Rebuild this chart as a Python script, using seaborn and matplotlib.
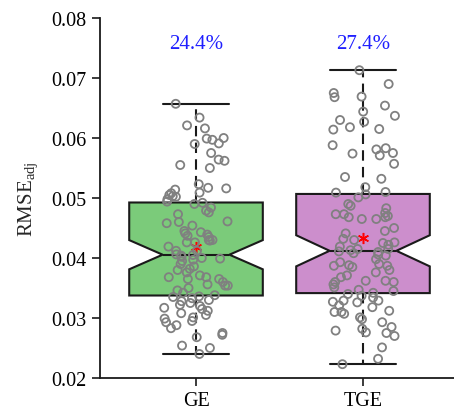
import matplotlib
matplotlib.use("Agg")
import matplotlib.pyplot as plt
import numpy as np
import pandas as pd
import seaborn as sns

# values (RMSE_adj per sample)
ge_values = [
    0.0240, 0.0250, 0.0254, 0.0268, 0.0272, 0.0275, 0.0283, 0.0288, 0.0293, 0.0295,
    0.0299, 0.0301, 0.0305, 0.0308, 0.0312, 0.0315, 0.0317, 0.0320, 0.0322, 0.0325,
    0.0328, 0.0330, 0.0333, 0.0335, 0.0336,
    0.0338, 0.0342, 0.0346, 0.0350, 0.0354, 0.0354, 0.0356, 0.0360, 0.0365, 0.0365,
    0.0368, 0.0368, 0.0371, 0.0376, 0.0380, 0.0382, 0.0386, 0.0390, 0.0395, 0.0397,
    0.0399, 0.0400, 0.0402, 0.0404, 0.0405,
    0.0406, 0.0412, 0.0412, 0.0419, 0.0426, 0.0426, 0.0429, 0.0430, 0.0430, 0.0435,
    0.0437, 0.0439, 0.0441, 0.0443, 0.0445, 0.0454, 0.0458, 0.0460, 0.0461, 0.0473,
    0.0476, 0.0479, 0.0484, 0.0490, 0.0492,
    0.0494, 0.0498, 0.0502, 0.0503, 0.0505, 0.0508, 0.0509, 0.0514, 0.0516, 0.0517,
    0.0523, 0.0550, 0.0555, 0.0562, 0.0564, 0.0575, 0.0590, 0.0591, 0.0597, 0.0599,
    0.0600, 0.0616, 0.0621, 0.0634, 0.0657,
]
tge_values = [
    0.0223, 0.0232, 0.0251, 0.0270, 0.0275, 0.0276, 0.0279, 0.0282, 0.0285, 0.0293,
    0.0298, 0.0301, 0.0307, 0.0310, 0.0310, 0.0312, 0.0318, 0.0321, 0.0326, 0.0327,
    0.0329, 0.0329, 0.0334, 0.0337, 0.0340,
    0.0342, 0.0345, 0.0347, 0.0351, 0.0356, 0.0360, 0.0360, 0.0362, 0.0362, 0.0368,
    0.0371, 0.0376, 0.0380, 0.0385, 0.0387, 0.0387, 0.0388, 0.0390, 0.0393, 0.0398,
    0.0404, 0.0406, 0.0408, 0.0410, 0.0411,
    0.0413, 0.0415, 0.0415, 0.0419, 0.0422, 0.0425, 0.0426, 0.0430, 0.0432, 0.0441,
    0.0445, 0.0450, 0.0465, 0.0465, 0.0468, 0.0468, 0.0470, 0.0473, 0.0473, 0.0475,
    0.0483, 0.0487, 0.0490, 0.0501, 0.0506,
    0.0509, 0.0510, 0.0518, 0.0532, 0.0535, 0.0557, 0.0571, 0.0574, 0.0575, 0.0581,
    0.0583, 0.0588, 0.0614, 0.0615, 0.0618, 0.0627, 0.0630, 0.0637, 0.0644, 0.0654,
    0.0668, 0.0669, 0.0675, 0.0690, 0.0713,
]
groups = ["GE", "TGE"]
cv_labels = ["24.4%", "27.4%"]
box_colors = ["#7bcb7a", "#cc8ecc"]
y_ticks = [0.02, 0.03, 0.04, 0.05, 0.06, 0.07, 0.08]

df = pd.DataFrame({
    "group": ["GE"] * len(ge_values) + ["TGE"] * len(tge_values),
    "value": ge_values + tge_values,
})

sns.set_style("ticks")
plt.rcParams["font.family"] = ["Liberation Serif", "DejaVu Serif"]
plt.rcParams["mathtext.fontset"] = "custom"
plt.rcParams["mathtext.rm"] = "Liberation Serif"
plt.rcParams["mathtext.it"] = "Liberation Serif:italic"

fig = plt.figure(figsize=(4.54, 4.14), dpi=100)
ax = fig.add_axes([100 / 454, 35 / 414, 354 / 454, 360 / 414])

line_kw = {"color": "#1a1a1a", "linewidth": 1.5}
sns.boxplot(
    data=df, x="group", y="value", hue="group", order=groups, hue_order=groups,
    palette=box_colors, saturation=1, legend=False, width=0.8, notch=True,
    whis=(0, 100), showfliers=False, showmeans=True,
    meanprops={"marker": (6, 2, 0), "markeredgecolor": "red", "markerfacecolor": "red",
               "markersize": 8, "markeredgewidth": 1.1},
    boxprops={"edgecolor": "#1a1a1a", "linewidth": 1.5},
    medianprops=line_kw,
    whiskerprops={**line_kw, "linestyle": (0, (5, 3))},
    capprops=line_kw,
    ax=ax,
)

np.random.seed(3)
sns.stripplot(
    data=df, x="group", y="value", order=groups, jitter=0.2, size=5.8,
    color="none", edgecolor="#808080", linewidth=1.3, ax=ax,
)

for i, label in enumerate(cv_labels):
    ax.text(i, 0.0758, label, color="#1f1fff", fontsize=15, ha="center", va="center")

ax.set_ylim(0.02, 0.08)
ax.set_xlim(-0.575, 1.545)
ax.set_yticks(y_ticks)
ax.set_yticklabels([f"{t:.2f}" for t in y_ticks])
ax.set_xlabel("")
ax.set_ylabel("RMSE$_{\\rm adj}$", fontsize=15, labelpad=8)
ax.tick_params(labelsize=14.5, length=6, width=1.2, colors="#1a1a1a", labelcolor="black")
for side in ["left", "bottom"]:
    ax.spines[side].set_linewidth(1.3)
    ax.spines[side].set_color("#1a1a1a")
sns.despine(ax=ax)

fig.savefig("out.png", dpi=100)
